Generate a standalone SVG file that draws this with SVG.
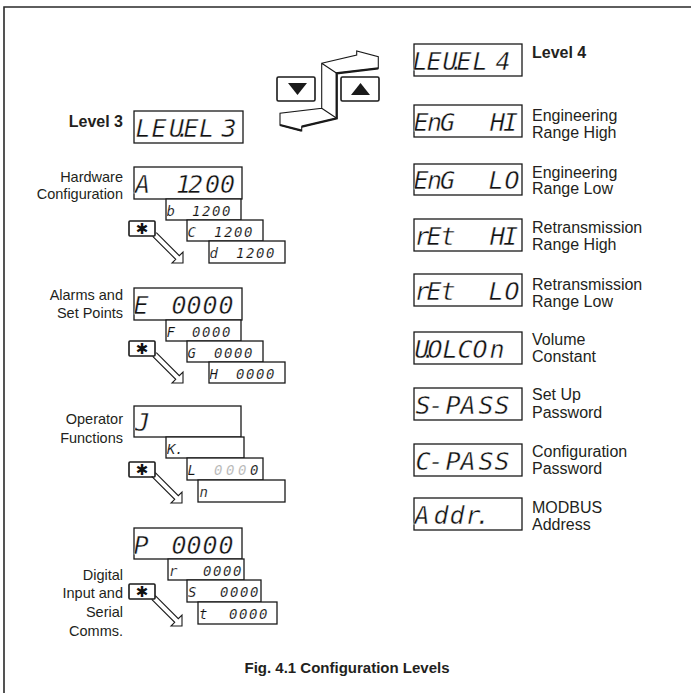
<svg xmlns="http://www.w3.org/2000/svg" width="691" height="693" viewBox="0 0 691 693">
<style>
.box{fill:#fff;stroke:#1a1a1a;stroke-width:1.3}
.seg{font-family:"DejaVu Sans Mono",monospace;font-style:oblique;font-size:25px;fill:#111;stroke:#fff;stroke-width:0.4}
.segs{font-family:"DejaVu Sans Mono",monospace;font-style:oblique;font-size:14px;fill:#111;stroke:#fff;stroke-width:0.15}
.lL{font-family:"Liberation Sans",Arial,sans-serif;font-size:14.5px;fill:#231f20;text-anchor:end}
.lR{font-family:"Liberation Sans",Arial,sans-serif;font-size:16px;fill:#231f20}
.bold{font-weight:bold;font-size:16px}
.btn{fill:#fff;stroke:#1a1a1a;stroke-width:1.6}
.star{font-family:"DejaVu Sans",sans-serif;font-size:15px;fill:#111;text-anchor:middle}
.arr{fill:none;stroke:#1a1a1a;stroke-width:1.1}
.grey{fill:#b3b3b3}
</style>
<defs>
<path id="hollow" d="M27.3,11.7 L50.3,34.7 L54,31 L54,42 L43,42 L46.7,38.3 L23.7,15.3"/>
</defs>

<g id="frame"><path d="M4,693 V7 H691" fill="none" stroke="#2a2a2a" stroke-width="1.6"/></g>

<g id="nav-buttons">
<rect class="btn" x="277" y="77" width="38" height="24" rx="1.5"/>
<polygon points="288,83 307,83 297.5,95" fill="#1a1a1a"/>
<rect class="btn" x="341" y="77" width="38" height="24" rx="1.5"/>
<polygon points="351,95 370,95 360.5,83" fill="#1a1a1a"/>
<path d="M321.7,63.3 L356.7,55 L356.7,51 L378.3,56.7 L378.3,68.3 L336.7,73.3 L336.7,118.3 L301.7,126.7 L301.7,130.7 L280,125 L280,113.3 L321.7,108.3 Z M321.7,63.3 L336.7,73.3 M321.7,108.3 L336.7,118.3" fill="#fff" stroke="#1a1a1a" stroke-width="1.1" stroke-linejoin="miter"/>
<path d="M378.3,68.3 L336.7,73.3 L336.7,118.3 L301.7,126.7 M301.7,130.7 L280,125" fill="none" stroke="#1a1a1a" stroke-width="2.3"/>
</g>

<g id="level3">
<text class="lL bold" x="123" y="127">Level 3</text>
<rect class="box" x="134" y="111" width="109" height="32"/>
<text class="seg" x="135.5 151.5 169 175.5 183.5 199 221.5" y="137">LEU.EL3</text>
</g>

<g id="hardware">
<text class="lL" x="123" y="182">Hardware</text>
<text class="lL" x="123" y="199">Configuration</text>
<rect class="box" x="134" y="167" width="108" height="32"/>
<text class="seg" x="135 150 176 188 205 220" y="193">A 1200</text>
</g>
<g id="hw-b"><rect class="box" x="166" y="199" width="75" height="21"/><text class="segs" x="166.5 175 192 202 212 222" y="216">b 1200</text></g>
<g id="hw-c"><rect class="box" x="187" y="220" width="76" height="21"/><text class="segs" x="187.5 196 214 224 234 244" y="237">C 1200</text></g>
<g id="hw-d"><rect class="box" x="209" y="241" width="76" height="22"/><text class="segs" x="209.5 218 236 246 256 266" y="258">d 1200</text></g>
<g id="hw-star"><rect class="btn" x="129" y="221" width="26" height="15" rx="1"/><text class="star" x="142" y="234">✱</text></g>

<g id="alarms">
<text class="lL" x="123" y="300">Alarms and</text>
<text class="lL" x="123" y="318">Set Points</text>
<rect class="box" x="134" y="288" width="108" height="32"/>
<text class="seg" x="133.5 150 171.5 186.5 202.5 218.5" y="314">E 0000</text>
</g>
<g id="al-f"><rect class="box" x="166" y="320" width="75" height="21"/><text class="segs" x="166.5 175 192 202 212 222" y="337">F 0000</text></g>
<g id="al-g"><rect class="box" x="187" y="341" width="76" height="21"/><text class="segs" x="187.5 196 214 224 234 244" y="358">G 0000</text></g>
<g id="al-h"><rect class="box" x="209" y="362" width="76" height="21"/><text class="segs" x="209.5 218 236 246 256 266" y="379">H 0000</text></g>
<g id="al-star"><rect class="btn" x="129" y="341" width="26" height="15" rx="1"/><text class="star" x="142" y="354">✱</text></g>

<g id="operator">
<text class="lL" x="123" y="424">Operator</text>
<text class="lL" x="123" y="443">Functions</text>
<rect class="box" x="134" y="406" width="107" height="31"/>
<text class="seg" x="135" y="431">J</text>
</g>
<g id="op-k"><rect class="box" x="166" y="437" width="78" height="21"/><text class="segs" x="167 175" y="454">K.</text></g>
<g id="op-l"><rect class="box" x="187" y="458" width="76" height="22"/><text class="segs" x="187.5" y="475">L <tspan class="grey" x="214">0</tspan><tspan class="grey" x="226">0</tspan><tspan class="grey" x="238">0</tspan><tspan x="250">0</tspan></text></g>
<g id="op-n"><rect class="box" x="198" y="480" width="87" height="22"/><text class="segs" x="199.5" y="497">n</text></g>
<g id="op-star"><rect class="btn" x="129" y="462" width="26" height="15" rx="1"/><text class="star" x="142" y="475">✱</text></g>

<g id="digital">
<text class="lL" x="123" y="580">Digital</text>
<text class="lL" x="123" y="598">Input and</text>
<text class="lL" x="123" y="617">Serial</text>
<text class="lL" x="123" y="636">Comms.</text>
<rect class="box" x="134" y="528" width="108" height="31"/>
<text class="seg" x="133.5 150 171.5 186.5 202.5 218.5" y="554">P 0000</text>
</g>
<g id="dg-r"><rect class="box" x="168" y="559" width="76" height="21"/><text class="segs" x="169 178 203 213 223 233" y="576">r 0000</text></g>
<g id="dg-s"><rect class="box" x="187" y="580" width="74" height="22"/><text class="segs" x="188 197 220 230 240 250" y="597">S 0000</text></g>
<g id="dg-t"><rect class="box" x="198" y="602" width="79" height="22"/><text class="segs" x="199 208 229 239 249 259" y="619">t 0000</text></g>
<g id="dg-star"><rect class="btn" x="129" y="584" width="26" height="15" rx="1"/><text class="star" x="142" y="597">✱</text></g>

<g id="connectors">
<use href="#hollow" class="arr" transform="translate(129,221)"/>
<use href="#hollow" class="arr" transform="translate(129,341)"/>
<use href="#hollow" class="arr" transform="translate(128,461)"/>
<use href="#hollow" class="arr" transform="translate(128,584)"/>
</g>

<g id="level4">
<rect class="box" x="414" y="44" width="108" height="32"/>
<text class="seg" x="412.5 426.5 442.5 449.5 456.5 472.5 495.5" y="70">LEU.EL4</text>
<text class="lR bold" x="532" y="58">Level 4</text>
</g>
<g id="eng-hi">
<rect class="box" x="414" y="105" width="108" height="32"/>
<text class="seg" x="413.5 427 440 470 490 503" y="131">EnG HI</text>
<text class="lR" x="532" y="121">Engineering</text>
<text class="lR" x="532" y="137.5">Range High</text>
</g>
<g id="eng-lo">
<rect class="box" x="414" y="164" width="108" height="31"/>
<text class="seg" x="413.5 427 440 470 488.5 504.5" y="189">EnG LO</text>
<text class="lR" x="532" y="178">Engineering</text>
<text class="lR" x="532" y="194">Range Low</text>
</g>
<g id="ret-hi">
<rect class="box" x="414" y="219" width="108" height="32"/>
<text class="seg" x="414.5 426.5 440.5 470 490 503" y="245">rEt HI</text>
<text class="lR" x="532" y="233">Retransmission</text>
<text class="lR" x="532" y="250">Range High</text>
</g>
<g id="ret-lo">
<rect class="box" x="414" y="274" width="108" height="32"/>
<text class="seg" x="414.5 426.5 440.5 470 488.5 504.5" y="300">rEt LO</text>
<text class="lR" x="532" y="290">Retransmission</text>
<text class="lR" x="532" y="306.5">Range Low</text>
</g>
<g id="volcon">
<rect class="box" x="414" y="332" width="108" height="32"/>
<text class="seg" x="414.5 421.5 427.5 442.5 457.5 472.5 489.5" y="358">U.OLCOn</text>
<text class="lR" x="532" y="345">Volume</text>
<text class="lR" x="532" y="362">Constant</text>
</g>
<g id="s-pass">
<rect class="box" x="414" y="388" width="108" height="32"/>
<text class="seg" x="415.5 428.5 445.5 460.5 478.5 494.5" y="414">S-PASS</text>
<text class="lR" x="532" y="400">Set Up</text>
<text class="lR" x="532" y="418">Password</text>
</g>
<g id="c-pass">
<rect class="box" x="414" y="444" width="108" height="32"/>
<text class="seg" x="415.5 428.5 445.5 460.5 478.5 494.5" y="470">C-PASS</text>
<text class="lR" x="532" y="457">Configuration</text>
<text class="lR" x="532" y="474">Password</text>
</g>
<g id="addr">
<rect class="box" x="414" y="498" width="108" height="32"/>
<text class="seg" x="414.5 433.5 449.5 465.5 475.5" y="524">Addr.</text>
<text class="lR" x="532" y="513">MODBUS</text>
<text class="lR" x="532" y="530">Address</text>
</g>

<g id="caption"><text x="347" y="673" font-family="Liberation Sans, Arial, sans-serif" font-size="15" font-weight="bold" fill="#231f20" text-anchor="middle">Fig. 4.1 Configuration Levels</text></g>
</svg>
